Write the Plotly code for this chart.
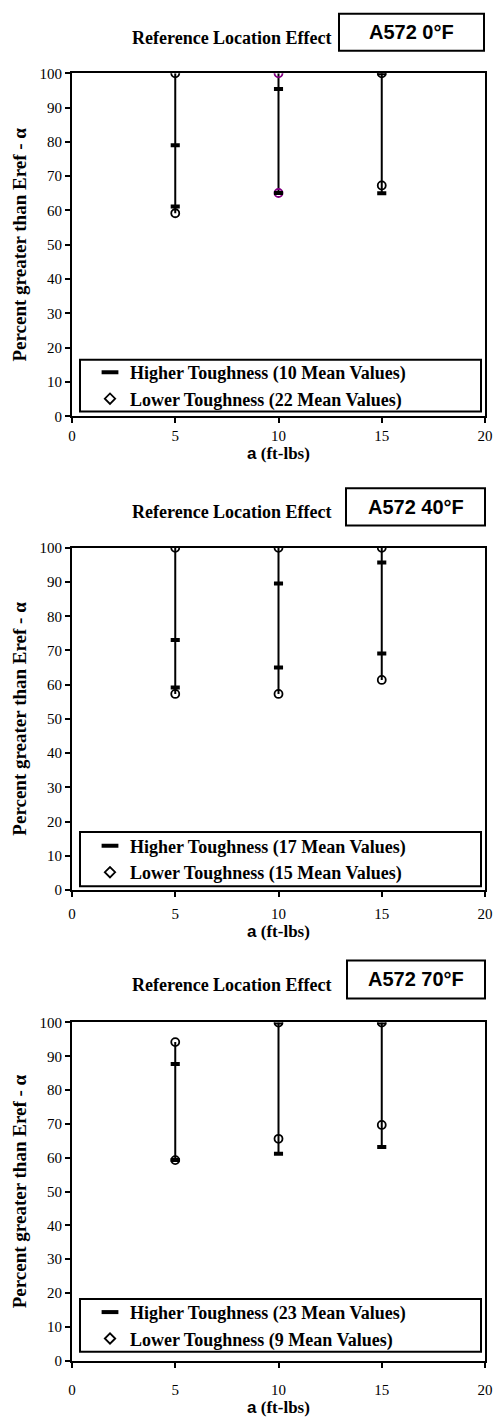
import plotly.graph_objects as go

# ---------------- data ----------------
x_vals = [5, 10, 15]
x_ticks = [0, 5, 10, 15, 20]
y_ticks = [0, 10, 20, 30, 40, 50, 60, 70, 80, 90, 100]

panel_titles = ["A572 0°F", "A572 40°F", "A572 70°F"]
higher_counts = [10, 17, 23]
lower_counts = [22, 15, 9]

# higher toughness values (two per alpha)
hi_0F = [[79.0, 61.2], [95.4, 65.1], [100.0, 65.0]]
hi_40F = [[73.1, 59.2], [89.6, 65.0], [95.7, 69.1]]
hi_70F = [[87.7, 59.3], [100.0, 61.2], [100.0, 63.2]]

# lower toughness values (two per alpha)
lo_0F = [[100.0, 59.2], [100.0, 65.1], [100.0, 67.3]]
lo_40F = [[100.0, 57.3], [100.0, 57.3], [100.0, 61.4]]
lo_70F = [[94.2, 59.3], [100.0, 65.6], [100.0, 69.7]]

# colour of lower-toughness circles per alpha
lo_colors_0F = ["black", "#800080", "black"]
lo_colors_40F = ["black", "black", "black"]
lo_colors_70F = ["black", "black", "black"]

panels = [
    (hi_0F, lo_0F, lo_colors_0F),
    (hi_40F, lo_40F, lo_colors_40F),
    (hi_70F, lo_70F, lo_colors_70F),
]

# ---------------- layout geometry ----------------
W, H = 496, 1425
ML, MR = 72, 11
PW = W - ML - MR

def px_x(px):
    return (px - ML) / PW

def px_y(py):
    return 1 - py / H

plot_tb = [(66, 413), (546, 892), (1026, 1368)]
title_box = [(339, 484, 5.7, 43.3), (346, 485, 485.7, 523.3), (347, 485, 963.3, 1001.7)]
title_text_y = [30, 510, 988]
legend_box = [(80, 481, 355.7, 408), (80, 481, 833.3, 888.3), (80, 481, 1305.7, 1359)]
tick_standoff = [0, 4, 9]

SERIF = "Liberation Serif, Times New Roman, serif"
SANS = "Liberation Sans, Arial, sans-serif"

fig = go.Figure()
layout = dict(
    width=W, height=H,
    margin=dict(l=ML, r=MR, t=0, b=0, pad=0),
    paper_bgcolor="white", plot_bgcolor="white",
    showlegend=True,
    shapes=[], annotations=[],
)

for i, (hi, lo, lo_cols) in enumerate(panels):
    n = i + 1
    xa = "x" if n == 1 else f"x{n}"
    ya = "y" if n == 1 else f"y{n}"
    leg = "legend" if n == 1 else f"legend{n}"

    # vertical range lines
    lx, ly = [], []
    for xv, h, l in zip(x_vals, hi, lo):
        allv = h + l
        lx += [xv, xv, None]
        ly += [max(allv), min(allv), None]
    fig.add_trace(go.Scatter(x=lx, y=ly, mode="lines", line=dict(color="black", width=2),
                             xaxis=xa, yaxis=ya, showlegend=False, hoverinfo="skip"))

    # lower toughness circles
    cx, cy, cc = [], [], []
    for xv, l, col in zip(x_vals, lo, lo_cols):
        for v in l:
            cx.append(xv); cy.append(v); cc.append(col)
    fig.add_trace(go.Scatter(x=cx, y=cy, mode="markers",
                             marker=dict(symbol="circle-open", size=8, color=cc, line=dict(width=1.8, color=cc)),
                             xaxis=xa, yaxis=ya, showlegend=False,
                             name=f"Lower Toughness ({lower_counts[i]} Mean Values)"))

    # higher toughness dashes
    dx, dy = [], []
    for xv, h in zip(x_vals, hi):
        for v in h:
            dx.append(xv); dy.append(v)
    fig.add_trace(go.Scatter(x=dx, y=dy, mode="markers",
                             marker=dict(symbol="line-ew", size=6.5, color="black", line=dict(width=4, color="black")),
                             xaxis=xa, yaxis=ya, showlegend=False,
                             name=f"Higher Toughness ({higher_counts[i]} Mean Values)"))

    # legend entries
    fig.add_trace(go.Scatter(x=[None], y=[None], mode="markers",
                             marker=dict(symbol="line-ew", size=12, color="black", line=dict(width=4, color="black")),
                             xaxis=xa, yaxis=ya, legend=leg,
                             name=f"Higher Toughness ({higher_counts[i]} Mean Values)"))
    fig.add_trace(go.Scatter(x=[None], y=[None], mode="markers",
                             marker=dict(symbol="diamond-open", size=8, color="black", line=dict(width=1.8, color="black")),
                             xaxis=xa, yaxis=ya, legend=leg,
                             name=f"Lower Toughness ({lower_counts[i]} Mean Values)"))

    top, bot = plot_tb[i]
    xkey = "xaxis" if n == 1 else f"xaxis{n}"
    ykey = "yaxis" if n == 1 else f"yaxis{n}"
    layout[xkey] = dict(
        domain=[0, 1], anchor=ya, range=[0, 20], tickvals=x_ticks, ticktext=[str(t) for t in x_ticks],
        ticks="outside", ticklen=5, tickwidth=2, tickcolor="black",
        showline=True, linewidth=2, linecolor="black", mirror=True,
        showgrid=False, zeroline=False,
        tickfont=dict(family=SERIF, size=15, color="black"),
        ticklabelstandoff=tick_standoff[i],
        title=dict(text="<span style='font-family:Liberation Sans'>a</span>"
                        "<span style='font-family:Liberation Serif'> (ft-lbs)</span>",
                   font=dict(family=SERIF, size=17, color="black", weight="bold"), standoff=2),
    )
    layout[ykey] = dict(
        domain=[px_y(bot), px_y(top)], anchor=xa, range=[0, 100], tickvals=y_ticks,
        ticks="outside", ticklen=5, tickwidth=2, tickcolor="black",
        showline=True, linewidth=2, linecolor="black", mirror=True,
        showgrid=False, zeroline=False,
        tickfont=dict(family=SERIF, size=15, color="black"),
        title=dict(text="Percent greater than Eref - α",
                   font=dict(family=SERIF, size=19, color="black", weight="bold"), standoff=8),
    )

    # legend
    lx0, lx1, ly0, ly1 = legend_box[i]
    layout[leg] = dict(
        x=px_x(90), y=px_y((ly0 + ly1) / 2), xanchor="left", yanchor="middle",
        xref="paper", yref="paper",
        bgcolor="rgba(0,0,0,0)", borderwidth=0,
        font=dict(family=SERIF, size=18, color="black", weight="bold"),
        tracegroupgap=0,
    )
    layout["shapes"].append(dict(type="rect", xref="paper", yref="paper",
                                 x0=px_x(lx0), x1=px_x(lx1), y0=px_y(ly1), y1=px_y(ly0),
                                 line=dict(color="black", width=2), fillcolor="rgba(0,0,0,0)"))

    # title box
    bx0, bx1, by0, by1 = title_box[i]
    layout["shapes"].append(dict(type="rect", xref="paper", yref="paper",
                                 x0=px_x(bx0), x1=px_x(bx1), y0=px_y(by1), y1=px_y(by0),
                                 line=dict(color="black", width=2), fillcolor="white"))
    layout["annotations"].append(dict(text=f"<b>{panel_titles[i]}</b>", xref="paper", yref="paper",
                                      x=px_x((bx0 + bx1) / 2), y=px_y((by0 + by1) / 2),
                                      xanchor="center", yanchor="middle", showarrow=False,
                                      font=dict(family=SANS, size=20, color="black")))
    layout["annotations"].append(dict(text="<b>Reference Location Effect</b>", xref="paper", yref="paper",
                                      x=px_x(232), y=px_y(title_text_y[i]),
                                      xanchor="center", yanchor="middle", showarrow=False,
                                      font=dict(family=SERIF, size=18, color="black")))

fig.update_layout(**layout)
fig.write_html(
    "out.html",
    config={"displayModeBar": False, "responsive": False},
    post_script=(
        "document.documentElement.style.margin='0px';"
        "document.body.style.margin='0px';"
        "document.documentElement.style.overflow='hidden';"
        "document.body.style.overflow='hidden';"
    ),
)
